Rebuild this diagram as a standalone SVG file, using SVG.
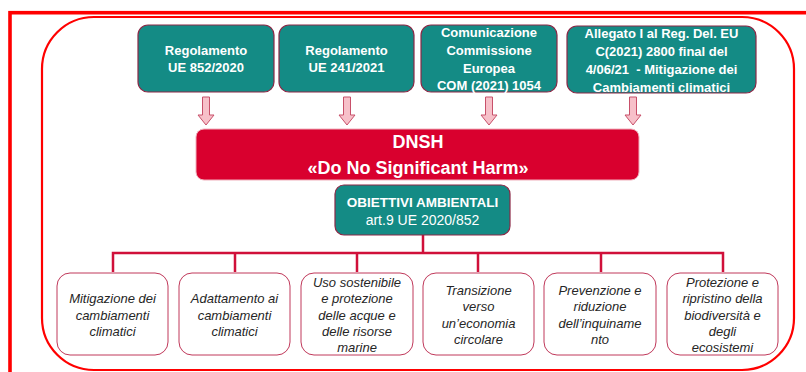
<svg xmlns="http://www.w3.org/2000/svg" width="806" height="372" viewBox="0 0 806 372">
<defs>
<style>
.frame{fill:none;stroke:#ff0000;stroke-width:3.6}
.inner{fill:none;stroke:#ff0000;stroke-width:2.2}
.teal{fill:#148b85;stroke:#8b2846;stroke-width:1.2}
.tt{font-family:"Liberation Sans",Arial,sans-serif;font-weight:bold;font-size:13px;fill:#ffffff;text-anchor:middle}
.arrow{fill:#f7c0c9;stroke:#c8506a;stroke-width:1}
.dnsh{fill:#d9002e;stroke:#f0b0bc;stroke-width:1}
.dt{font-family:"Liberation Sans",Arial,sans-serif;font-weight:bold;font-size:18px;fill:#ffffff;text-anchor:middle}
.ob{font-family:"Liberation Sans",Arial,sans-serif;font-size:14px;fill:#ffffff;text-anchor:middle}
.conn{fill:none;stroke:#d0103a;stroke-width:2.5}
.leaf{fill:#ffffff;stroke:#c0385a;stroke-width:1}
.lt{font-family:"Liberation Sans",Arial,sans-serif;font-style:italic;font-size:13px;fill:#262626;text-anchor:middle}
</style>
</defs>
<rect width="806" height="372" fill="#ffffff"/>
<rect class="frame" x="10" y="12.7" width="820" height="380"/>
<rect class="inner" x="42" y="17" width="752" height="353" rx="52" ry="52"/>

<g id="src1">
<rect class="teal" x="138" y="25" width="136" height="67" rx="10"/>
<text class="tt" x="206" y="54.5">Regolamento</text>
<text class="tt" x="206" y="72">UE 852/2020</text>
</g>
<g id="src2">
<rect class="teal" x="279" y="25" width="135" height="67" rx="10"/>
<text class="tt" x="346.5" y="54.5">Regolamento</text>
<text class="tt" x="346.5" y="72">UE 241/2021</text>
</g>
<g id="src3">
<rect class="teal" x="421" y="25" width="136" height="67" rx="10"/>
<text class="tt" x="489" y="37">Comunicazione</text>
<text class="tt" x="489" y="55">Commissione</text>
<text class="tt" x="489" y="72.5">Europea</text>
<text class="tt" x="489" y="90">COM (2021) 1054</text>
</g>
<g id="src4">
<rect class="teal" x="567" y="26" width="189" height="67" rx="10"/>
<text class="tt" x="661.5" y="37.5">Allegato I al Reg. Del. EU</text>
<text class="tt" x="661.5" y="55.5">C(2021) 2800 final del</text>
<text class="tt" x="661.5" y="73.5" xml:space="preserve">4/06/21  - Mitigazione dei</text>
<text class="tt" x="661.5" y="91.5">Cambiamenti climatici</text>
</g>

<g id="connectors">
<path class="arrow" d="M202.5 97 H209.5 V115 H214 L206 125 L198 115 H202.5 Z"/>
<path class="arrow" d="M343.5 97 H350.5 V115 H355 L347 125 L339 115 H343.5 Z"/>
<path class="arrow" d="M485.5 97 H492.5 V115 H497 L489 125 L481 115 H485.5 Z"/>
<path class="arrow" d="M629.5 97 H636.5 V115 H641 L633 125 L625 115 H629.5 Z"/>
<path class="conn" d="M423 235 V253 M113 272 V253 H723 V272 M235 253 V272 M357 253 V272 M478 253 V272 M601 253 V272"/>
</g>

<g id="dnsh">
<rect class="dnsh" x="196" y="129" width="443" height="51" rx="8"/>
<text class="dt" x="418" y="148">DNSH</text>
<text class="dt" x="418" y="174">«Do No Significant Harm»</text>
</g>

<g id="obiettivi">
<rect class="teal" x="335" y="185" width="175" height="50" rx="9"/>
<text class="tt" style="font-size:13.5px" x="422.5" y="207">OBIETTIVI AMBIENTALI</text>
<text class="ob" x="422.5" y="225">art.9 UE 2020/852</text>
</g>

<g id="obj1">
<rect class="leaf" x="57" y="273" width="111" height="82" rx="13"/>
<text class="lt" x="112.5" y="303">Mitigazione dei</text>
<text class="lt" x="112.5" y="319.5">cambiamenti</text>
<text class="lt" x="112.5" y="336">climatici</text>
</g>
<g id="obj2">
<rect class="leaf" x="179" y="273" width="111" height="82" rx="13"/>
<text class="lt" x="234.5" y="303">Adattamento ai</text>
<text class="lt" x="234.5" y="319.5">cambiamenti</text>
<text class="lt" x="234.5" y="336">climatici</text>
</g>
<g id="obj3">
<rect class="leaf" x="301" y="273" width="112" height="82" rx="13"/>
<text class="lt" x="357" y="287">Uso sostenibile</text>
<text class="lt" x="357" y="303.3">e protezione</text>
<text class="lt" x="357" y="319.6">delle acque e</text>
<text class="lt" x="357" y="335.9">delle risorse</text>
<text class="lt" x="357" y="352.2">marine</text>
</g>
<g id="obj4">
<rect class="leaf" x="423" y="273" width="111" height="82" rx="13"/>
<text class="lt" x="478.5" y="295">Transizione</text>
<text class="lt" x="478.5" y="311.3">verso</text>
<text class="lt" x="478.5" y="327.6">un’economia</text>
<text class="lt" x="478.5" y="343.9">circolare</text>
</g>
<g id="obj5">
<rect class="leaf" x="544" y="273" width="112" height="82" rx="13"/>
<text class="lt" x="600" y="295">Prevenzione e</text>
<text class="lt" x="600" y="311.3">riduzione</text>
<text class="lt" x="600" y="327.6">dell’inquiname</text>
<text class="lt" x="600" y="343.9">nto</text>
</g>
<g id="obj6">
<rect class="leaf" x="667" y="273" width="111" height="82" rx="13"/>
<text class="lt" x="722.5" y="287">Protezione e</text>
<text class="lt" x="722.5" y="303.3">ripristino della</text>
<text class="lt" x="722.5" y="319.6">biodiversità e</text>
<text class="lt" x="722.5" y="335.9">degli</text>
<text class="lt" x="722.5" y="352.2">ecosistemi</text>
</g>
</svg>
